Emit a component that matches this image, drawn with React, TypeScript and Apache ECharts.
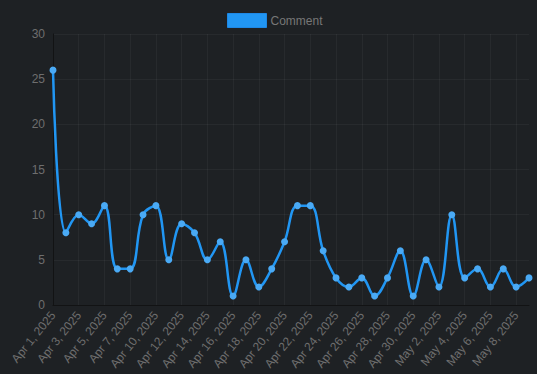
import React, { useEffect, useRef } from "react";
import * as echarts from "echarts";

const categories = [
  "Apr 1, 2025", "Apr 2, 2025", "Apr 3, 2025", "Apr 4, 2025", "Apr 5, 2025",
  "Apr 6, 2025", "Apr 7, 2025", "Apr 8, 2025", "Apr 10, 2025", "Apr 11, 2025",
  "Apr 12, 2025", "Apr 13, 2025", "Apr 14, 2025", "Apr 15, 2025", "Apr 16, 2025",
  "Apr 17, 2025", "Apr 18, 2025", "Apr 19, 2025", "Apr 20, 2025", "Apr 21, 2025",
  "Apr 22, 2025", "Apr 23, 2025", "Apr 24, 2025", "Apr 25, 2025", "Apr 26, 2025",
  "Apr 27, 2025", "Apr 28, 2025", "Apr 29, 2025", "Apr 30, 2025", "May 1, 2025",
  "May 2, 2025", "May 3, 2025", "May 4, 2025", "May 5, 2025", "May 6, 2025",
  "May 7, 2025", "May 8, 2025", "May 9, 2025",
];

const commentValues = [
  26, 8, 10, 9, 11, 4, 4, 10, 11, 5,
  9, 8, 5, 7, 1, 5, 2, 4, 7, 11,
  11, 6, 3, 2, 3, 1, 3, 6, 1, 5,
  2, 10, 3, 4, 2, 4, 2, 3,
];

const seriesName = "Comment";

export default function App() {
  const ref = useRef<HTMLDivElement>(null);
  useEffect(() => {
    if (!ref.current) return;
    const chart = echarts.init(ref.current, null, { renderer: "svg" });
    const font = "Helvetica Neue, Helvetica, Arial, sans-serif";
    chart.setOption({
      animation: false,
      backgroundColor: "#1e2124",
      textStyle: { fontFamily: font },
      legend: {
        top: 8,
        left: 222,
        icon: "rect",
        itemWidth: 39,
        itemHeight: 14,
        itemGap: 10,
        itemStyle: { color: "#2196f3", borderColor: "#1e88e5", borderWidth: 1 },
        textStyle: { color: "#777777", fontSize: 12, fontFamily: font, padding: [0, 0, 0, -1] },
        data: [seriesName],
      },
      grid: { left: 53, right: 8, top: 34, bottom: 69, containLabel: false },
      xAxis: {
        type: "category",
        data: categories,
        boundaryGap: false,
        axisLine: { show: true, lineStyle: { color: "#121314", width: 1 } },
        axisTick: { show: false },
        axisLabel: {
          interval: 1,
          rotate: 51,
          color: "#6e6e6e",
          fontSize: 12,
          fontFamily: font,
          margin: 8,
        },
        splitLine: {
          show: true,
          interval: 1,
          lineStyle: { color: "rgba(255,255,255,0.045)", width: 1 },
        },
      },
      yAxis: {
        type: "value",
        min: 0,
        max: 30,
        interval: 5,
        axisLine: { show: true, lineStyle: { color: "#121314", width: 1 } },
        axisTick: { show: false },
        axisLabel: { color: "#6e6e6e", fontSize: 12, fontFamily: font, margin: 8 },
        splitLine: { show: true, lineStyle: { color: "rgba(255,255,255,0.045)", width: 1 } },
      },
      series: [
        {
          name: seriesName,
          type: "line",
          data: commentValues,
          smooth: 0.4,
          symbol: "circle",
          symbolSize: 7,
          showAllSymbol: true,
          lineStyle: { color: "#2196f3", width: 2.5 },
          itemStyle: { color: "#4aaaf5", borderWidth: 0 },
        },
      ],
    });
    return () => chart.dispose();
  }, []);
  return <div ref={ref} style={{ width: 537, height: 374, position: "absolute", left: 0, top: 0 }} />;
}
